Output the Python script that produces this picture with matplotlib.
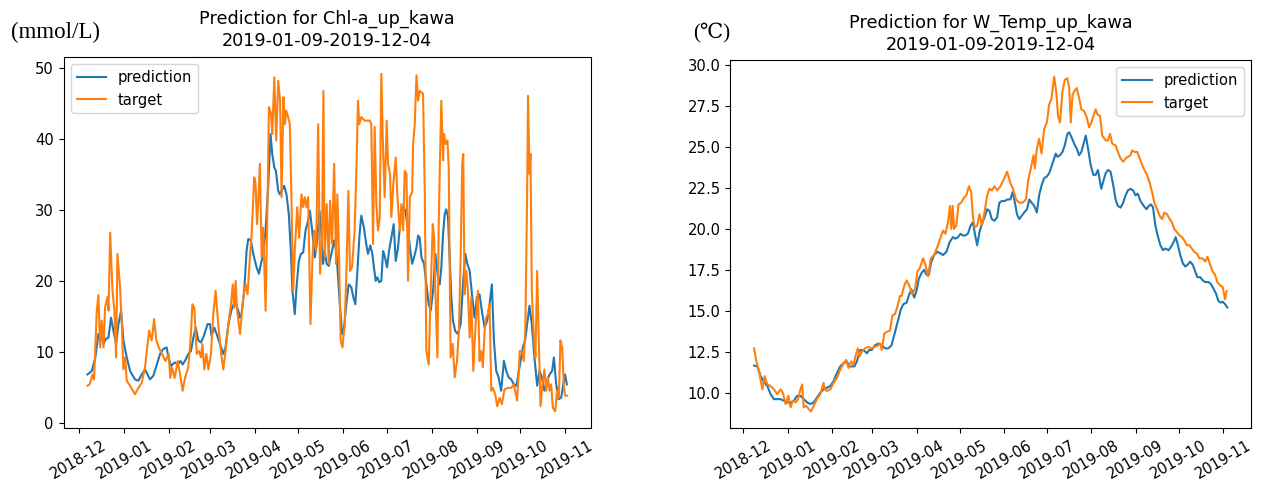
import matplotlib

matplotlib.use("Agg")
import matplotlib.dates as mdates
import matplotlib.pyplot as plt
import pandas as pd

# day offsets are counted from this date
BASE_DATE = "2018-12-01"

# ---- Chl-a (left panel) ----
chl_target_days = [
    6, 7.5, 9.4, 10.5, 12.4, 13.5, 14.7, 15.8, 17, 18.1, 19.7, 20.5, 21.6, 23.2, 24.5,
    25.7, 26.6, 28.4, 29.6, 30.7, 31.9, 33, 35.3, 38.7, 41, 43.3, 45.6, 48.4, 50.2,
    51.8, 53.4, 55, 57.3, 59.6, 61.9, 63, 64.2, 66, 68.1, 69.7, 71.5, 73.1, 75.4,
    77.2, 78.2, 79.5, 81.2, 82.8, 84.1, 85.1, 86.4, 87.8, 89.2, 91, 92.6, 94.2, 96,
    98, 99.5, 101, 103, 104.8, 106, 107, 108, 109, 111, 113.3, 114.9, 116.2, 117.8,
    119, 120.8, 121.7, 122.7, 123.6, 124.7, 125.9, 127, 128.6, 130, 130.9, 132.3,
    133.2, 134.6, 135.9, 137.3, 138.6, 139.6, 140.9, 141.9, 142.8, 144.1, 145.3,
    146.4, 147.6, 148.7, 150.4, 151.7, 153.3, 154.5, 155.6, 156.8, 157.9, 159.5,
    160.9, 162, 163.4, 164.8, 166.1, 167.5, 168.4, 169.3, 170.7, 172.1, 173, 174.4,
    175.8, 177.1, 178, 179.2, 180.3, 181.5, 183.1, 184.4, 185.6, 186.7, 188.1, 189.9,
    191.3, 192.2, 193.1, 194.5, 196.8, 200.3, 201.4, 202.6, 203.7, 204.9, 206, 207.2,
    208.3, 209.5, 210.6, 212, 212.9, 214.3, 215.2, 216.6, 218.2, 219.4, 221, 222.1,
    223.3, 224.4, 225.6, 226.7, 227.9, 229.5, 230.2, 231.3, 232.5, 233.6, 234.7, 237,
    238.2, 239.3, 240.9, 242.3, 243.7, 244.6, 245.5, 246.9, 247.8, 248.7, 249.6,
    250.8, 251.5, 252.6, 253.8, 254.7, 256, 257.4, 258.8, 260.4, 261.7, 262.9, 264,
    264.7, 265.6, 266.8, 267.9, 269.1, 270.2, 271.6, 273.2, 274.8, 275.9, 277.1,
    278.2, 279.4, 280.5, 281.7, 282.8, 284, 285.1, 286.7, 288.1, 289.7, 291.3, 293.1,
    295.4, 297.7, 299.5, 301.8, 303.6, 305, 306.4, 307.5, 308.7, 309.3, 310.3, 311,
    311.9, 313.3, 314.4, 315.6, 316.7, 317.9, 319, 320.6, 321.8, 322.9, 324.1, 325.2,
    326.4, 328, 329.3, 330.5, 331.6, 332.8, 333.9, 334.8, 336.2,
]
chl_target_vals = [
    5.2, 5.4, 6.8, 6.1, 15.8, 18.0, 10.6, 14.4, 10.6, 16.2, 17.7, 15.8, 26.8, 18.6, 15.8,
    9.2, 23.8, 19.1, 13.9, 7.5, 9.2, 5.9, 5.2, 4.0, 4.9, 5.6, 7.8, 13.0, 11.6,
    14.6, 11.6, 10.6, 9.7, 8.7, 9.7, 6.3, 7.8, 6.3, 8.7, 6.8, 4.5, 6.3, 7.8,
    12.5, 16.7, 16.2, 9.7, 10.1, 9.2, 11.1, 7.5, 9.7, 7.5, 9.7, 15.3, 18.6, 13.9,
    9.7, 7.5, 10.1, 13.9, 16.7, 19.5, 16.2, 20.0, 15.8, 12.5, 17.7, 19.5, 18.1, 23.3,
    26.6, 34.6, 33.7, 28.0, 31.3, 36.5, 23.3, 27.5, 15.8, 31.8, 44.5, 43.6,
    40.7, 48.7, 39.8, 48.2, 45.4, 31.8, 45.9, 42.1, 44.0, 43.1, 42.1,
    31.8, 18.6, 24.2, 30.4, 26.1, 32.2, 30.4, 31.8, 30.4, 31.8, 13.9,
    23.3, 27.1, 24.2, 42.1, 21.0, 26.1, 46.8, 23.3, 30.8, 22.4, 31.3, 25.2,
    36.5, 22.4, 32.2, 23.3, 11.6, 10.6, 13.9, 22.4, 32.7, 21.4, 21.9, 27.1,
    37.0, 45.4, 42.1, 43.1, 42.6, 42.6, 42.1, 25.2, 41.7, 30.8, 27.1, 29.0,
    49.2, 38.4, 31.8, 42.6, 36.5, 35.1, 29.0, 33.7, 37.4, 31.8, 27.1, 30.8,
    27.1, 35.5, 35.1, 20.0, 31.8, 32.5, 39.3, 42.1, 49.0, 45.4, 46.8, 46.4,
    32.7, 10.1, 8.2, 18.6, 28.0, 26.1, 18.6, 9.2, 28.0, 37.4, 45.4,
    37.0, 40.7, 39.3, 39.8, 36.0, 9.2, 11.1, 6.4, 8.7, 12.9, 23.3, 36.5,
    37.9, 18.1, 21.4, 18.6, 12.0, 17.7, 7.3, 13.9, 18.6, 8.7, 10.1,
    7.8, 12.9, 14.8, 15.3, 16.7, 4.5, 4.9, 4.0, 2.3, 3.5, 2.6, 4.7,
    4.9, 4.9, 5.4, 3.1, 10.1, 10.1, 8.7, 13.9, 32.7, 46.1, 35.1, 37.9,
    18.6, 12.0, 9.2, 21.4, 11.6, 2.3, 4.9, 7.5, 4.5, 6.4, 4.5, 5.4,
    2.1, 1.6, 4.5, 3.5, 11.6, 10.6, 5.4, 3.8, 3.8,
]
chl_pred_days = [
    6, 9, 11.4, 13.5, 15, 17, 18.6, 20.4, 22.2, 23.8, 25.7, 27.3, 29.1, 30.7, 33, 35.3,
    38.7, 41, 43.3, 45.6, 46.7, 49, 51.3, 53.7, 56, 58.2, 60.5, 61.7, 63.5, 66, 68.1,
    70, 71.5, 73.6, 75.4, 77.2, 78.9, 80.5, 82.3, 84, 85.7, 87.3, 88.7, 90.3, 91.4,
    93.3, 94.9, 97.2, 99.5, 101, 103, 105, 107.5, 109.8, 111, 112, 113.9, 115.5,
    116.7, 118.5, 120.1, 122.4, 124, 125.4, 127, 128.6, 130.5, 132, 133.2, 134.6,
    135.7, 137.3, 138.4, 139.6, 141.4, 143, 144.6, 146, 147.1, 148.7, 149.9, 151.5,
    152.9, 154.5, 156.1, 157.9, 159.1, 160.7, 162.5, 164.1, 165.7, 167.1, 168.2,
    169.3, 170.7, 172.1, 173.9, 175.8, 177.3, 178.5, 179.9, 181.3, 182.6, 184.2,
    185.8, 187.6, 189, 190.4, 191.7, 193.3, 194.5, 196.3, 197.9, 199.1, 200.7,
    202.1, 203.2, 204.4, 205.5, 206.9, 208.3, 209.5, 210.6, 212.2, 213.6, 215.2,
    216.8, 218.2, 219.8, 221.6, 223.3, 224.9, 226.7, 228.3, 229.5, 230.8, 232.5,
    233.6, 234.7, 235.9, 237.7, 239.3, 240.9, 242.3, 243.9, 245.5, 247.3, 248.5,
    249.6, 250.8, 251.9, 253, 254.2, 255.3, 256.5, 257.6, 259.2, 261, 262.9, 264.5,
    266.1, 267.5, 269.1, 270.7, 272.5, 274.1, 275.9, 277.5, 279.4, 281.2, 282.8,
    284.4, 285.8, 287.4, 289, 290.8, 292.7, 294.3, 295.9, 297.7, 299.5, 301.3,
    303.4, 305.7, 307.3, 308.7, 310.3, 311.9, 313.7, 315.6, 317.2, 318.8, 320.6,
    322.5, 324.1, 325.9, 327.1, 328.7, 330.3, 332.1, 334, 334.8, 336,
]
chl_pred_vals = [
    6.8, 7.3, 9.2, 12.5, 12.5, 11.1, 11.8, 12.0, 14.8, 13.0, 11.1, 13.9, 15.8, 11.6, 9.2, 7.3,
    6.1, 5.9, 6.8, 7.5, 7.05, 6.1, 6.6, 8.2, 9.7, 10.4, 10.6, 9.2, 8.0, 8.5, 8.2,
    8.7, 8.2, 8.9, 9.7, 10.1, 12.0, 13.4, 11.6, 11.3, 12.0, 13.0, 13.9, 13.9, 12.2,
    13.4, 12.5, 11.1, 9.7, 10.6, 13.9, 15.8, 17.2, 15.8, 14.8, 15.3, 18.6, 24.2,
    25.9, 25.7, 23.8, 21.9, 21.0, 22.4, 23.8, 27.1, 33.7, 40.7, 37.9, 36.0,
    35.5, 32.7, 32.2, 32.7, 33.4, 32.2, 29.4, 24.2, 18.6, 15.3, 19.1, 22.8,
    23.8, 24.0, 27.1, 28.5, 29.9, 27.1, 23.3, 25.7, 29.9, 26.6, 22.4,
    24.2, 22.4, 22.1, 23.8, 25.7, 24.2, 20.5, 16.2, 12.5, 13.4, 16.7,
    19.5, 19.1, 17.7, 16.7, 21.0, 26.6, 29.2, 27.5, 25.2, 23.8, 25.0,
    23.8, 21.9, 20.0, 20.5, 19.8, 20.0, 24.2, 23.5, 21.9, 24.2, 26.1,
    28.0, 22.8, 24.7, 29.0, 30.4, 29.9, 27.1, 24.2, 22.4, 23.3, 24.7,
    26.4, 26.1, 23.3, 22.4, 19.5, 16.7, 15.8, 18.6, 23.8, 20.5, 19.5,
    21.9, 26.6, 29.4, 30.1, 29.0, 23.3, 17.7, 14.4, 12.9, 12.5, 13.9, 19.5,
    23.8, 22.4, 21.4, 18.1, 14.8, 17.7, 18.1, 15.8, 13.4, 14.4, 16.7,
    19.5, 11.6, 7.3, 6.4, 4.5, 8.7, 7.3, 6.4, 6.1, 5.4, 5.2,
    7.8, 10.6, 11.6, 13.9, 16.5, 13.9, 9.2, 5.2, 7.3, 6.4, 4.5,
    5.9, 6.8, 7.3, 9.2, 5.4, 3.3, 3.5, 5.9, 6.8, 5.4,
]

# ---- water temperature (right panel) ----
wt_target_days = [
    7.4, 9, 10.9, 13.2, 14.8, 16.7, 19, 21.3, 23.6, 25.9, 27.5, 29.4, 31.3, 32.9, 34.5,
    36.4, 38.2, 39.8, 41, 42.1, 43.8, 45.6, 47.2, 49.1, 51.4, 53.7, 56, 56.7, 58.4,
    60.7, 63, 65.3, 67.6, 70, 71.8, 73.4, 75.3, 76.9, 78.5, 79.9, 81.1, 82.7, 85,
    87.3, 89.6, 92, 94.3, 95.4, 96.6, 98.4, 100, 102.4, 104, 105.9, 107.7, 109.3,
    110.5, 112.4, 114, 115.8, 117.9, 119.8, 121.6, 123.2, 125.5, 127.2, 129, 130.9,
    133.2, 135.5, 137.8, 139.4, 141.1, 142.9, 144.3, 145.2, 146.2, 147.1, 148.7,
    150.3, 152.2, 154, 155.7, 157.5, 159.1, 160.3, 161.5, 163.3, 164.9, 166.6,
    168.4, 170.3, 171.9, 173.5, 175.4, 177.2, 179.5, 181.8, 184.2, 186.5, 188.3,
    190.4, 192.7, 195, 197.4, 199, 200.8, 202.7, 203.6, 205, 206.6, 208.3, 210.1,
    212, 213.6, 215.2, 217.1, 218.5, 219.8, 221.2, 222.9, 224.5, 226.3, 227.6,
    228.7, 229.9, 231.1, 232.9, 234.5, 236.1, 238, 239.9, 241.5, 243.1, 244.5,
    246.1, 247.3, 249.1, 250.7, 253.1, 254.7, 256.1, 257.7, 260, 261.6, 263.5,
    265.3, 267, 268.6, 270.4, 271.6, 273.2, 275.1, 276.9, 278.6, 280.2, 282,
    283.9, 285.5, 287.1, 289, 290.8, 292.5, 294.1, 295.9, 297.8, 299.4, 301,
    302.9, 304.7, 306.4, 308, 309.8, 311.7, 313.3, 314.9, 316.8, 318.6, 320.9,
    322.6, 324.2, 326.1, 327.9, 329.5, 331.1, 333, 334.9, 336.5, 337.6,
]
wt_target_vals = [
    12.7, 11.9, 11.3, 10.2, 11.0, 10.5, 10.4, 10.2, 9.9, 10.2, 10.0, 9.3, 9.8, 9.1, 9.5,
    9.4, 9.6, 10.2, 10.5, 9.1, 9.2, 9.0, 8.85, 9.2, 9.6, 9.9, 10.6, 10.2, 10.1,
    10.2, 10.6, 10.9, 11.4, 11.8, 12.0, 11.5, 11.9, 11.7, 12.3, 12.7, 12.2, 12.5, 12.7,
    12.8, 12.7, 12.8, 12.9, 13.0, 12.6, 13.6, 13.7, 13.8, 14.7, 14.8, 15.3, 15.9,
    15.9, 16.55, 16.85, 16.55, 16.0, 16.3, 17.4, 17.6, 18.2, 17.8, 17.1, 18.2,
    18.4, 18.9, 19.5, 19.9, 19.7, 20.4, 21.4, 20.0, 21.4, 20.0, 20.2,
    21.5, 21.6, 21.9, 22.05, 22.6, 22.25, 20.8, 20.1, 20.2, 20.9, 20.2,
    21.0, 22.05, 22.45, 22.35, 22.6, 22.35, 22.6, 23.0, 23.5, 22.8, 22.45,
    21.8, 21.6, 21.6, 21.8, 23.0, 23.7, 24.5, 23.7, 24.9, 25.5, 24.6, 26.1,
    26.5, 27.6, 27.95, 29.3, 28.4, 26.9, 26.5, 28.4, 29.1, 29.2, 28.6,
    26.5, 28.2, 28.4, 28.6, 28.0, 27.3, 27.2, 26.8, 26.2, 26.5, 26.9,
    27.3, 27.0, 26.9, 25.7, 25.4, 25.4, 25.8, 25.2, 25.1, 24.7, 24.3,
    24.1, 24.3, 24.4, 24.5, 24.8, 24.7, 24.7, 24.3, 23.9, 23.6, 23.3,
    22.8, 22.25, 21.6, 21.2, 20.8, 20.6, 21.0, 20.9, 20.6, 20.4, 20.0,
    19.8, 19.6, 19.5, 19.3, 19.0, 19.0, 18.8, 18.6, 18.5, 18.2, 18.2,
    18.0, 18.3, 17.8, 17.4, 17.2, 16.75, 16.55, 16.45, 15.7, 16.2,
]
wt_pred_days = [
    7.4, 9.7, 12, 14.3, 16.7, 19, 21.3, 23.6, 25.9, 28.2, 30.6, 32.9, 35.2, 37.5, 39.8,
    42.1, 44.5, 46.8, 49.1, 51.4, 53.7, 56, 58.4, 60.7, 63, 65.3, 67.6, 70, 72.3,
    73.9, 75.7, 77.6, 79.2, 81.5, 83.9, 86.2, 87.8, 89.6, 92, 94.3, 96.6, 98.9,
    101.2, 103.5, 105.9, 108.2, 110, 111.7, 114, 115.8, 117.4, 119.3, 120.9, 122.5,
    124.4, 126.2, 127.9, 129.5, 131.3, 133.2, 135.5, 137.8, 139.4, 141.8, 144.1,
    146.4, 148, 149.9, 151.7, 153.3, 155, 156.8, 158.7, 160.3, 161.9, 163.3, 164.9,
    166.6, 168.4, 170.3, 171.9, 173.5, 175.4, 177.2, 178.8, 180.5, 182.3, 184.6,
    186.5, 188.1, 189.7, 191.1, 192.7, 194.4, 196.2, 198.1, 199.7, 201.3, 203.2,
    205, 206.6, 208.3, 210.1, 212, 213.6, 215.2, 217.1, 218.2, 219.4, 221.2, 222.9,
    224.5, 226.3, 227.6, 229.2, 231.1, 232.9, 234.5, 236.1, 238, 239.2, 240.8,
    242.6, 244.5, 246.1, 247.7, 249.1, 250, 251.4, 253.1, 254.7, 256.5, 258.4, 260,
    261.6, 263.5, 265.3, 267, 268.6, 270.4, 272.3, 273.9, 275.5, 277.4, 279.7,
    281.6, 283.2, 284.8, 286.2, 287.8, 289.4, 291.3, 293.1, 294.8, 297.1, 298.7,
    300.6, 302, 303.3, 305.2, 307, 308.7, 310.3, 312.1, 314, 315.6, 317.2, 319.1,
    321, 322.6, 324.9, 326.5, 328.4, 330.2, 331.8, 333.5, 334.9, 336.5, 338.1,
]
wt_pred_vals = [
    11.65, 11.6, 11.0, 10.65, 10.4, 9.9, 9.6, 9.6, 9.6, 9.5, 9.4, 9.4, 9.5, 9.8, 9.8,
    9.6, 9.4, 9.3, 9.4, 9.7, 10.0, 10.2, 10.3, 10.4, 10.7, 11.2, 11.6, 11.8, 11.9,
    11.6, 11.6, 11.6, 11.9, 12.6, 12.6, 12.4, 12.6, 12.6, 12.9, 13.0, 12.9, 12.7,
    12.7, 12.9, 13.7, 14.5, 15.1, 15.4, 15.5, 16.0, 16.3, 15.8, 16.2, 16.95,
    17.3, 17.5, 17.2, 17.2, 18.0, 18.4, 18.6, 18.5, 18.4, 18.6, 19.2,
    19.5, 19.4, 19.5, 19.7, 19.6, 19.6, 19.7, 20.2, 20.4, 19.6, 19.0, 19.8,
    20.3, 20.7, 21.2, 21.1, 20.6, 20.5, 20.7, 21.6, 21.7, 21.7, 21.8,
    21.8, 22.25, 21.6, 20.9, 20.6, 20.8, 21.0, 21.2, 21.8, 21.6, 21.4,
    21.0, 22.05, 22.65, 23.1, 23.2, 23.4, 23.8, 24.3, 24.6, 24.4, 24.5, 24.7,
    25.1, 25.8, 25.9, 25.6, 25.2, 24.9, 24.5, 24.7, 25.3, 25.7, 24.9,
    23.9, 23.3, 23.3, 23.6, 22.9, 22.45, 22.9, 23.4, 23.6, 23.5, 22.65, 21.8,
    21.4, 21.3, 21.6, 22.05, 22.35, 22.45, 22.35, 22.05, 22.15, 21.7, 21.4,
    21.2, 21.4, 21.5, 21.3, 20.2, 19.6, 19.0, 18.7, 18.8, 18.7, 18.9,
    19.2, 19.5, 19.1, 18.4, 17.9, 17.7, 17.8, 18.0, 17.8, 17.4, 17.05, 17.05,
    16.85, 16.75, 16.75, 16.65, 16.35, 16.05, 15.6, 15.5, 15.55, 15.4, 15.2,
]

TITLES = [
    "Prediction for Chl-a_up_kawa\n2019-01-09-2019-12-04",
    "Prediction for W_Temp_up_kawa\n2019-01-09-2019-12-04",
]
UNITS = ["(mmol/L)", "(℃)"]


def to_dates(days):
    return pd.Timestamp(BASE_DATE) + pd.to_timedelta(days, unit="D")


# the reference looks like a slightly enlarged default-style figure
plt.rcParams["font.size"] = 10.6

fig = plt.figure(figsize=(12.63, 4.95), dpi=100)
ax1 = fig.add_axes([0.0503, 0.135, 0.4177, 0.750])
ax2 = fig.add_axes([0.5783, 0.135, 0.4122, 0.744])

panels = [
    (ax1, chl_pred_days, chl_pred_vals, chl_target_days, chl_target_vals, "upper left"),
    (ax2, wt_pred_days, wt_pred_vals, wt_target_days, wt_target_vals, "upper right"),
]
for ax, pd_days, pd_vals, tg_days, tg_vals, loc in panels:
    ax.plot(to_dates(pd_days), pd_vals, label="prediction")
    ax.plot(to_dates(tg_days), tg_vals, label="target")
    ax.xaxis.set_major_locator(mdates.MonthLocator())
    ax.xaxis.set_major_formatter(mdates.DateFormatter("%Y-%m"))
    plt.setp(ax.get_xticklabels(), rotation=30)
    ax.legend(loc=loc)

ax1.set_title(TITLES[0], fontsize=12.7, pad=8, linespacing=1.3)
ax2.set_title(TITLES[1], fontsize=12.7, pad=7, linespacing=1.3)

unit_font = ["Liberation Serif", "DejaVu Serif", "Noto Sans CJK JP"]
fig.text(0.009, 0.935, UNITS[0], family=unit_font, fontsize=16.5, va="center")
fig.text(0.549, 0.935, UNITS[1], family=unit_font, fontsize=15, va="center")

fig.savefig("out.png", dpi=100)
